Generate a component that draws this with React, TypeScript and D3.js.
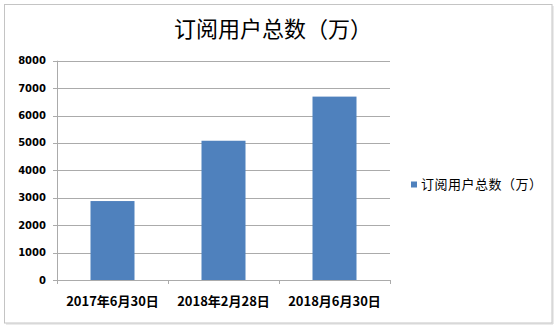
import React from "react";
import * as d3 from "d3";

const categories = ["2017年6月30日", "2018年2月28日", "2018月6月30日"];
const values = [2880, 5080, 6690];
const yTicks = [0, 1000, 2000, 3000, 4000, 5000, 6000, 7000, 8000];
const seriesName = "订阅用户总数（万）";
const title = "订阅用户总数（万）";

export default function App() {
  React.useEffect(() => {
    document.body.style.margin = "0";
  }, []);
  const W = 558, H = 329;
  const left = 57, right = 390, top = 60.7, bottom = 280;
  const x = d3.scaleBand<string>().domain(categories).range([left, right]).paddingInner(0).paddingOuter(0);
  const y = d3.scaleLinear().domain([0, 8000]).range([bottom, top]);
  const barW = 44;
  const blue = "#4F81BD";
  const grid = "#ABABAB";
  const boundaries = [left, ...categories.map((c) => (x(c) as number) + x.bandwidth())];
  return (
    <svg width={W} height={H} style={{ position: "absolute", left: 0, top: 0, display: "block" }}>
      <rect x={0} y={0} width={W} height={H} fill="#fff" />
      <line x1={553} y1={6} x2={553} y2={324} stroke="#D8D8D8" strokeWidth={1} />
      <line x1={6} y1={324} x2={553} y2={324} stroke="#D8D8D8" strokeWidth={1} />
      <rect x={4.5} y={4.5} width={547.5} height={318.5} fill="#fff" stroke="#C4C4C4" strokeWidth={1} />
      <text x={273} y={37} textAnchor="middle" fontFamily="Noto Sans CJK SC" fontSize={22} fill="#000">
        {title}
      </text>
      {yTicks.map((t) => (
        <g key={t}>
          {t > 0 && (
            <line x1={left} x2={right} y1={Math.round(y(t)) + 0.5} y2={Math.round(y(t)) + 0.5} stroke={grid} strokeWidth={1} />
          )}
          <line x1={left - 4} x2={left} y1={Math.round(y(t)) + 0.5} y2={Math.round(y(t)) + 0.5} stroke={grid} strokeWidth={1} />
          <text
            x={46}
            y={y(t)}
            dy="0.35em"
            textAnchor="end"
            fontFamily="DejaVu Sans"
            fontWeight="bold"
            fontSize={10}
            fill="#000"
          >
            {t}
          </text>
        </g>
      ))}
      <line x1={left + 0.5} x2={left + 0.5} y1={top} y2={bottom} stroke={grid} strokeWidth={1} />
      <line x1={left} x2={right} y1={bottom + 0.5} y2={bottom + 0.5} stroke={grid} strokeWidth={1} />
      {boundaries.map((b, i) => (
        <line key={i} x1={Math.round(b) + 0.5} x2={Math.round(b) + 0.5} y1={bottom} y2={bottom + 4} stroke={grid} strokeWidth={1} />
      ))}
      {categories.map((c, i) => {
        const cx = (x(c) as number) + x.bandwidth() / 2;
        return (
          <g key={c}>
            <rect x={cx - barW / 2} y={y(values[i])} width={barW} height={bottom - y(values[i])} fill={blue} />
            <text
              x={cx}
              y={306}
              textAnchor="middle"
              fontFamily="Noto Sans CJK SC"
              fontWeight="bold"
              fontSize={13}
              fill="#000"
            >
              {c}
            </text>
          </g>
        );
      })}
      <rect x={411} y={181.5} width={6} height={6} fill={blue} />
      <text x={421} y={184.5} dy="0.35em" fontFamily="Noto Sans CJK SC" fontSize={13} letterSpacing={0.5} fill="#000">
        {seriesName}
      </text>
    </svg>
  );
}
